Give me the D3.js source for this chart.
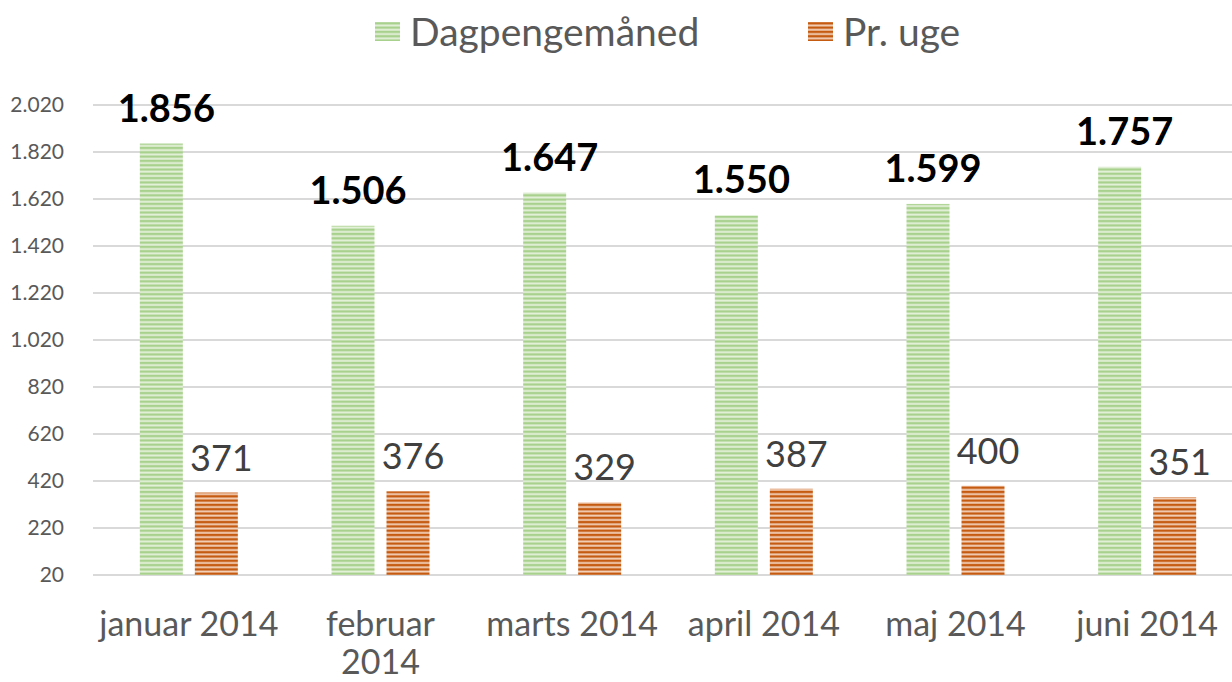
<!DOCTYPE html>
<html>
<head>
<meta charset="utf-8">
<script src="https://cdn.jsdelivr.net/npm/d3@7/dist/d3.min.js"></script>
<style>
	body { margin: 0; background: #fff; }
	svg { display: block; font-family: Lato, "Open Sans", sans-serif; }
</style>
</head>
<body>
<script>
(function(){
	// Data
	let months = [['januar 2014'], ['februar', '2014'], ['marts 2014'], ['april 2014'], ['maj 2014'], ['juni 2014']];
	let seriesNames = ['Dagpengemåned', 'Pr. uge'];
	let dagpenge = [1856, 1506, 1647, 1550, 1599, 1757];
	let prUge = [371, 376, 329, 387, 400, 351];
	let yTicks = [20, 220, 420, 620, 820, 1020, 1220, 1420, 1620, 1820, 2020];

	let width = 1232,
		height = 682,
		margin = {left: 93, right: 0, top: 105, bottom: 107};

	let svg = d3.select('body').append('svg')
		.attr('width', width)
		.attr('height', height);

	// Striped fills
	let defs = svg.append('defs');
	function stripes(id, base, line){
		let p = defs.append('pattern')
			.attr('id', id)
			.attr('patternUnits', 'userSpaceOnUse')
			.attr('width', 8)
			.attr('height', 4.3);
		p.append('rect').attr('width', 8).attr('height', 4.3).attr('fill', base);
		p.append('rect').attr('y', 0.6).attr('width', 8).attr('height', 2.4).attr('fill', line);
	}
	stripes('greenStripe', '#e4f1da', '#a9d18e');
	stripes('orangeStripe', '#f3d2bb', '#c55a11');
	let fills = ['url(#greenStripe)', 'url(#orangeStripe)'];

	// Scales (category band is a bit wider than the visible plot)
	let x = d3.scaleBand()
		.domain(d3.range(months.length))
		.range([margin.left, 1243]);
	let y = d3.scaleLinear()
		.domain([20, 2020])
		.range([height - margin.bottom, margin.top]);

	// Grid lines
	svg.append('g')
		.selectAll('line')
		.data(yTicks).enter()
			.append('line')
			.attr('x1', margin.left)
			.attr('x2', width - margin.right)
			.attr('y1', d => y(d))
			.attr('y2', d => y(d))
			.attr('stroke', '#d9d9d9')
			.attr('stroke-width', 2);

	// Y axis labels
	let fmt = d3.formatLocale({decimal: ',', thousands: '.', grouping: [3], currency: ['', '']}).format(',d');
	svg.append('g')
		.selectAll('text')
		.data(yTicks).enter()
			.append('text')
			.attr('x', 64)
			.attr('y', d => y(d))
			.attr('dy', '0.35em')
			.attr('text-anchor', 'end')
			.attr('fill', '#595959')
			.style('font-size', '21px')
			.text(d => fmt(d));

	// Bars
	let barW = 43, gap = 6;
	let groups = svg.append('g')
		.selectAll('g')
		.data(months.map((m, i) => ({i: i, values: [dagpenge[i], prUge[i]]}))).enter()
			.append('g')
			.attr('transform', d => 'translate(' + (x(d.i) + x.bandwidth() / 2) + ',0)');

	groups.selectAll('rect')
		.data(d => d.values).enter()
			.append('rect')
			.attr('x', (d, k) => k === 0 ? -gap - barW : gap)
			.attr('y', d => y(d))
			.attr('width', barW)
			.attr('height', d => y(20) - y(d))
			.attr('fill', (d, k) => fills[k]);

	// Value labels
	groups.selectAll('text.val')
		.data(d => d.values).enter()
			.append('text')
			.attr('class', 'val')
			.attr('x', (d, k) => (k === 0 ? -gap - barW / 2 : gap + barW / 2) + 5)
			.attr('y', d => y(d) - 22)
			.attr('text-anchor', 'middle')
			.attr('fill', (d, k) => k === 0 ? '#000' : '#404040')
			.style('font-size', (d, k) => k === 0 ? '38px' : '36px')
			.style('font-weight', (d, k) => k === 0 ? 'bold' : 'normal')
			.text(d => fmt(d));

	// Category labels
	groups.append('text')
		.attr('text-anchor', 'middle')
		.attr('fill', '#595959')
		.style('font-size', '34px')
		.selectAll('tspan')
		.data(d => months[d.i]).enter()
			.append('tspan')
			.attr('x', 0)
			.attr('y', (d, k) => 636 + k * 38)
			.text(d => d);

	// Legend
	let legendX = [375, 808];
	let legend = svg.append('g')
		.selectAll('g')
		.data(seriesNames).enter()
			.append('g')
			.attr('transform', (d, i) => 'translate(' + legendX[i] + ',0)');
	legend.append('rect')
		.attr('y', 22)
		.attr('width', 25)
		.attr('height', 19)
		.attr('fill', (d, i) => fills[i]);
	legend.append('text')
		.attr('x', 35)
		.attr('y', 46)
		.attr('fill', '#595959')
		.style('font-size', '39px')
		.text(d => d);
})();
</script>
</body>
</html>
